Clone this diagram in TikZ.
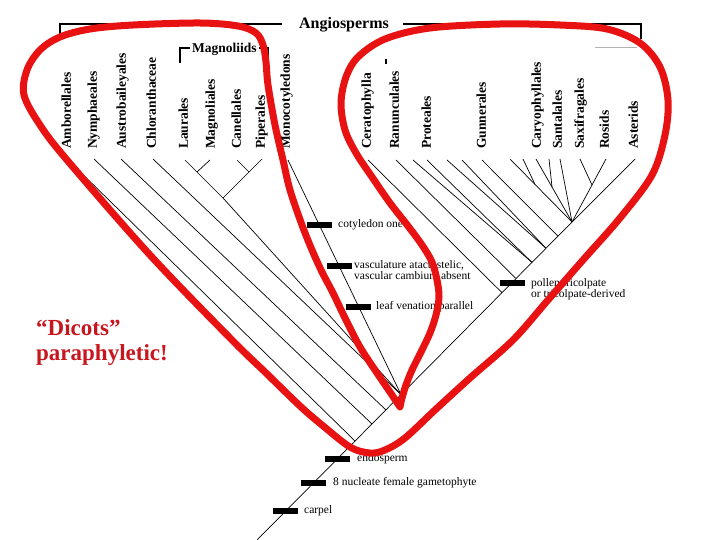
\documentclass[tikz,border=0pt]{standalone}
\usepackage{fontspec}
\setmainfont{Liberation Serif}
\definecolor{loopred}{RGB}{232,18,18}
\definecolor{txtred}{RGB}{200,22,30}
\begin{document}
\begin{tikzpicture}[x=1pt,y=-1pt,
  br/.style={line width=0.7pt},
  brk/.style={line width=1.8pt},
  lab/.style={rotate=90,anchor=mid west,inner sep=0pt,font=\bfseries\fontsize{13.5}{14}\selectfont},
  chr/.style={fill=black,minimum width=25pt,minimum height=5.5pt,inner sep=0pt},
  chrtxt/.style={anchor=mid west,inner sep=0pt,font=\fontsize{11.5}{12}\selectfont},
  redloop/.style={draw=loopred,line width=7pt,line join=round,line cap=round}]
\useasboundingbox (0,0) rectangle (720,540);
\fill[white] (0,0) rectangle (720,540);

% ---- brackets ----
\node[inner sep=0pt,anchor=base,font=\bfseries\fontsize{16}{18}\selectfont] (angio) at (344,29) {Angiosperms};
\coordinate (aL) at (60,35);
\coordinate (aLt) at (60,24);
\coordinate (aLe) at (282,24);
\coordinate (aRe) at (403,24);
\coordinate (aR) at (641,39);
\coordinate (aRt) at (641,24);
\draw[brk] (aL) -- (aLt) -- (aLe);
\draw[brk] (aRe) -- (aRt) -- (aR);
\node[inner sep=0pt,anchor=base west,font=\bfseries\fontsize{13.5}{14}\selectfont] (magn) at (192,53) {Magnoliids};
\coordinate (mgL) at (180,63);
\coordinate (mgLt) at (180,48);
\coordinate (mgR) at (268,63);
\coordinate (mgRt) at (268,48);
\draw[line width=2pt] (mgL) -- (mgLt) -- (190,48);
\draw[line width=2pt] (259,48) -- (mgRt) -- (mgR);
\coordinate (dotA) at (386,59);
\coordinate (dotB) at (386,64);
\draw[line width=1.4pt] (dotA) -- (dotB);
\coordinate (grA) at (595,47);
\coordinate (grB) at (637,47);
\draw[gray!60,line width=0.8pt] (grA) -- (grB);

% ---- labels ----
\node[lab] (lAmb) at (68.5,149) {Amborellales};
\node[lab] (lNym) at (94.5,149) {Nymphaeales};
\node[lab] (lAus) at (123.5,149) {Austrobaileyales};
\node[lab] (lChl) at (153.5,149) {Chloranthaceae};
\node[lab] (lLau) at (185.5,149) {Laurales};
\node[lab] (lMag) at (212.5,149) {Magnoliales};
\node[lab] (lCan) at (238.5,149) {Canellales};
\node[lab] (lPip) at (262.5,149) {Piperales};
\node[lab] (lMon) at (287.5,149) {Monocotyledons};
\node[lab] (lCer) at (368.5,149) {Ceratophylla};
\node[lab] (lRan) at (396.5,149) {Ranunculales};
\node[lab] (lPro) at (428.5,149) {Proteales};
\node[lab] (lGun) at (483.5,149) {Gunnerales};
\node[lab] (lCar) at (538.5,149) {Caryophyllales};
\node[lab] (lSan) at (559.5,149) {Santalales};
\node[lab] (lSax) at (581.5,149) {Saxifragales};
\node[lab] (lRos) at (606.5,149) {Rosids};
\node[lab] (lAst) at (635.5,149) {Asterids};

% ---- tree coordinates ----
\coordinate (root) at (257,540);
\coordinate (apex) at (572,222);
\coordinate (j1) at (355,441);
\coordinate (j2) at (372,424);
\coordinate (j3) at (386,410);
\coordinate (j4) at (401,394.6);
\coordinate (j5) at (502,292.7);
\coordinate (j6) at (516,278.5);
\coordinate (j7) at (532,262.4);
\coordinate (j8) at (546,248.2);
\coordinate (j9) at (558,236.1);
\coordinate (tAmb) at (68,160);
\coordinate (tNym) at (94,159);
\coordinate (tAus) at (121,159);
\coordinate (tChl) at (153,159);
\coordinate (tLau) at (185,160);
\coordinate (tMag) at (210,160);
\coordinate (tCan) at (237,160);
\coordinate (tPip) at (262,159);
\coordinate (tMon) at (288,160);
\coordinate (m1) at (197,172);
\coordinate (m2) at (249,172);
\coordinate (m3) at (223,198);
\coordinate (tCer) at (368,160);
\coordinate (tRan) at (396,160);
\coordinate (tU1) at (413,160);
\coordinate (tPro) at (427,160);
\coordinate (tU2) at (447,160);
\coordinate (tU3) at (462,160);
\coordinate (tGun) at (482,160);
\coordinate (tU4) at (510,159);
\coordinate (tU5) at (523,159);
\coordinate (tCar) at (536,159);
\coordinate (tU6) at (549,159);
\coordinate (tSan) at (560,159);
\coordinate (tSax) at (580,159);
\coordinate (tRos) at (606,159);
\coordinate (tAst) at (635,159);
\coordinate (c1) at (535,184.4);
\coordinate (c2) at (552,187);
\coordinate (c3) at (592,185);

% ---- tree edges ----
\draw[br] (root) -- (apex);
\draw[br] (tAmb) -- (j1);
\draw[br] (tNym) -- (j2);
\draw[br] (tAus) -- (j3);
\draw[br] (tChl) -- (j4);
\draw[br] (tLau) -- (m1) -- (m3) -- (j4);
\draw[br] (tMag) -- (m1);
\draw[br] (tCan) -- (m2);
\draw[br] (tPip) -- (m2);
\draw[br] (m2) -- (m3);
\draw[br] (tMon) -- (j4);
\draw[br] (tCer) -- (j5);
\draw[br] (tRan) -- (j6);
\draw[br] (tU1) -- (j7);
\draw[br] (tPro) -- (j7);
\draw[br] (tU2) -- (j8);
\draw[br] (tU3) -- (j8);
\draw[br] (tGun) -- (j9);
\draw[br] (tU4) -- (c1) -- (apex);
\draw[br] (tU5) -- (c1);
\draw[br] (tCar) -- (c2) -- (apex);
\draw[br] (tU6) -- (c2);
\draw[br] (tSan) -- (apex);
\draw[br] (tSax) -- (c3);
\draw[br] (tRos) -- (c3) -- (apex);
\draw[br] (tAst) -- (apex);

% ---- characters ----
\node[chr] (kCarp) at (285,511) {};
\node[chrtxt] (xCarp) at (304,511) {carpel};
\node[chr] (kGam) at (313,483) {};
\node[chrtxt] (xGam) at (333,483) {8 nucleate female gametophyte};
\node[chr] (kEnd) at (337,459) {};
\node[chrtxt] (xEnd) at (357,459) {endosperm};
\node[chr] (kCot) at (319.5,225) {};
\node[chrtxt] (xCot) at (338,225) {cotyledon one};
\node[chr] (kVas) at (339,266) {};
\node[chrtxt] (xVas) at (354,266) {vasculature atactostelic,};
\node[chrtxt] (xVas2) at (354,277.5) {vascular cambium absent};
\node[chr] (kLeaf) at (358.8,307) {};
\node[chrtxt] (xLeaf) at (376,307) {leaf venation parallel};
\node[chr] (kPol) at (512,283) {};
\node[chrtxt] (xPol) at (531,284) {pollen tricolpate};
\node[chrtxt] (xPol2) at (531,295.5) {or tricolpate-derived};

% ---- red loop ----
\draw[redloop] plot[smooth,tension=0.55] coordinates {
 (400,407) (402,398) (406,385) (412,370) (421,352) (430,333) (436,315) (439,297)
 (437,280) (432,262) (422,245) (408,226) (390,203) (372,177) (356,153)
 (345,130) (341,103) (346,77) (358,57) (385,39) (430,28) (500,24) (560,25)
 (607,29) (640,43) (660,67) (668,100) (665,135) (652,175) (620,218) (583,260)
 (548,300) (513,340) (470,378) (435,410) (405,438) (385,450) (370,453)
 (350,447) (322,425) (300,406) (265,372) (232,340) (150,255) (67,160)
 (40,125) (24,95) (27,70) (40,50) (60,37) (90,29) (133,25) (200,23)
 (238,26) (256,33) (263,45) (266,62) (268,85) (275,125) (283,160) (290,190)
 (302,225) (312,250) (322,272) (333,293) (345,318) (360,347) (377,373)
 (392,395) (400,407)};

% ---- comment ----
\node[inner sep=0pt,anchor=base west,text=txtred,
  font=\bfseries\fontsize{23}{25}\selectfont] (dic1) at (36,335)
  {\textquotedblleft Dicots\textquotedblright};
\node[inner sep=0pt,anchor=base west,text=txtred,
  font=\bfseries\fontsize{23}{25}\selectfont] (dic2) at (36,360)
  {paraphyletic!};
\end{tikzpicture}
\end{document}
